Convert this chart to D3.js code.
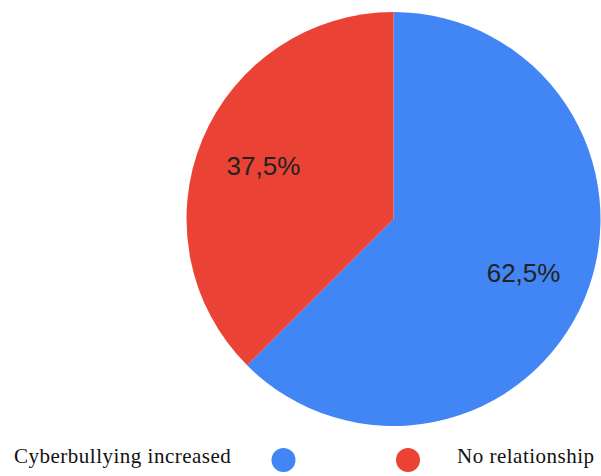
<!DOCTYPE html>
<html>
<head>
<meta charset="utf-8">
<script src="https://cdn.jsdelivr.net/npm/d3@7"></script>
<style>
  html, body { margin: 0; padding: 0; background: #fff; }
  svg { display: block; }
</style>
</head>
<body>
<svg id="chart" width="601" height="476"></svg>
<script>
// Survey answers and their shares (percent)
const categories = ["Cyberbullying increased", "No relationship"];
const values = [62.5, 37.5];
const sliceLabels = ["62,5%", "37,5%"];
const colors = ["#4285f4", "#ea4335"];

const svg = d3.select("#chart");
const cx = 393.5, cy = 219, radius = 207;

const pie = d3.pie().sort(null).value(d => d.value);
const arcs = pie(categories.map((c, i) => ({ name: c, value: values[i], label: sliceLabels[i], color: colors[i] })));

const arc = d3.arc().innerRadius(0).outerRadius(radius);
const labelArc = d3.arc().innerRadius(radius * 0.68).outerRadius(radius * 0.68);

const g = svg.append("g").attr("transform", `translate(${cx},${cy})`);

g.selectAll("path.slice")
  .data(arcs)
  .join("path")
  .attr("class", "slice")
  .attr("d", arc)
  .attr("fill", d => d.data.color);

g.selectAll("text.pct")
  .data(arcs)
  .join("text")
  .attr("class", "pct")
  .attr("transform", d => `translate(${labelArc.centroid(d)})`)
  .attr("text-anchor", "middle")
  .attr("dy", "0.36em")
  .attr("font-family", "'Liberation Sans', Arial, sans-serif")
  .attr("font-size", 26)
  .attr("fill", "#222")
  .text(d => d.data.label);

// Legend: label, dot ... dot, label
const legendY = 460;
const legend = svg.append("g")
  .attr("font-family", "'Liberation Serif', 'Times New Roman', serif")
  .attr("font-size", 21)
  .attr("letter-spacing", "0.5px")
  .attr("fill", "#111");

legend.append("text")
  .attr("x", 14).attr("y", legendY + 3).text(categories[0]);
legend.append("circle")
  .attr("cx", 283.5).attr("cy", legendY).attr("r", 12).attr("fill", colors[0]);
legend.append("circle")
  .attr("cx", 408).attr("cy", legendY).attr("r", 12).attr("fill", colors[1]);
legend.append("text")
  .attr("x", 457).attr("y", legendY + 3).text(categories[1]);
</script>
</body>
</html>
